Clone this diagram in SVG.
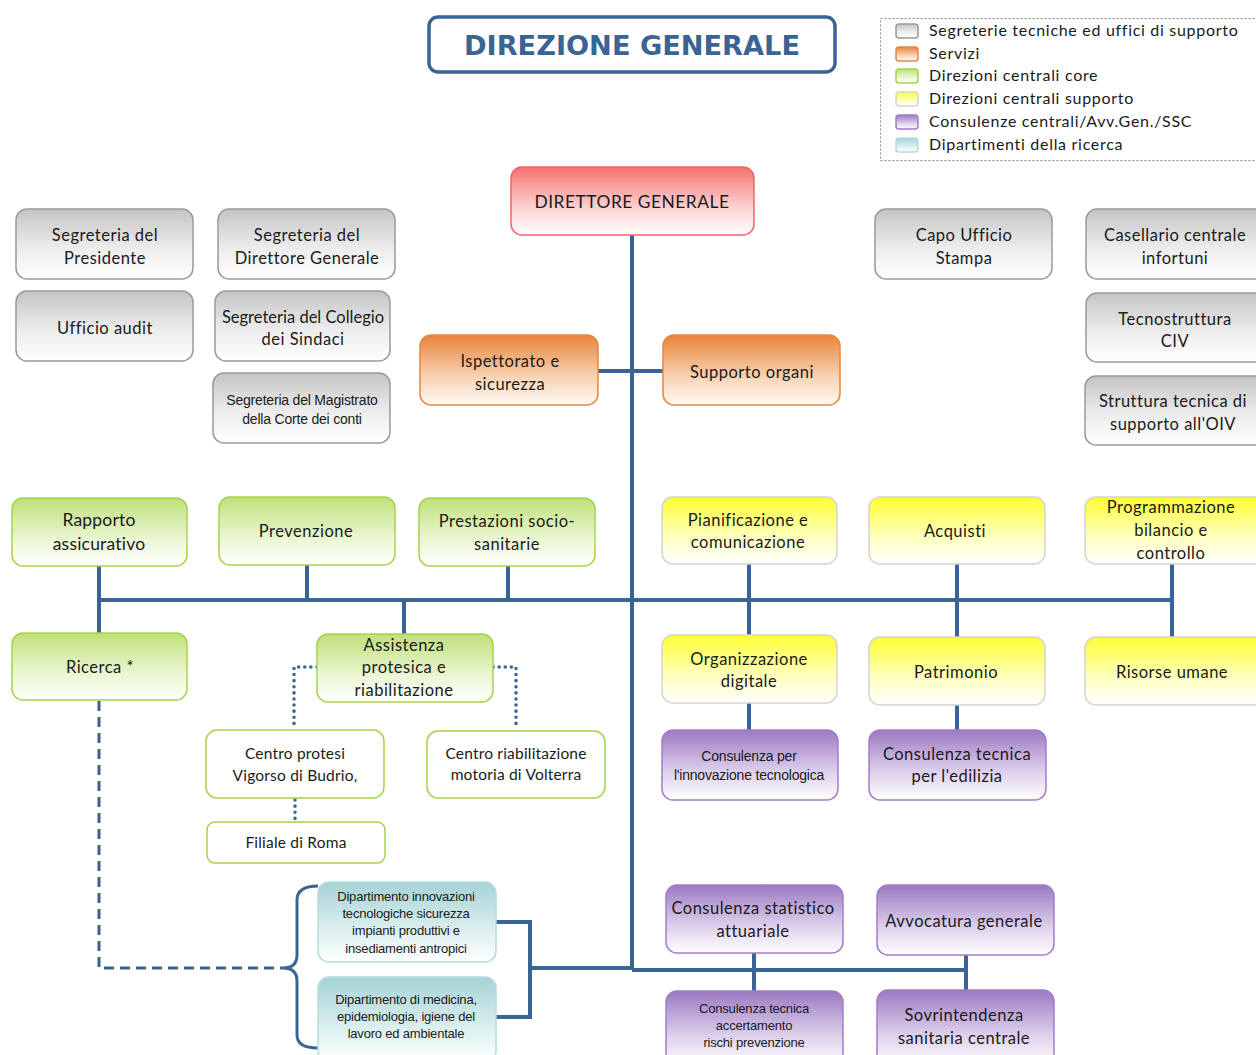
<svg xmlns="http://www.w3.org/2000/svg" width="1256" height="1055" viewBox="0 0 1256 1055">
<defs>
<linearGradient id="gGray" x1="0" y1="0" x2="0" y2="1"><stop offset="0" stop-color="#c4c4c4"/><stop offset="0.55" stop-color="#ececec"/><stop offset="1" stop-color="#ffffff"/></linearGradient>
<linearGradient id="gRed" x1="0" y1="0" x2="0" y2="1"><stop offset="0" stop-color="#f77070"/><stop offset="0.6" stop-color="#fcd2d2"/><stop offset="1" stop-color="#ffffff"/></linearGradient>
<linearGradient id="gOrange" x1="0" y1="0" x2="0" y2="1"><stop offset="0" stop-color="#e8843a"/><stop offset="0.6" stop-color="#f8d3b4"/><stop offset="1" stop-color="#fffaf6"/></linearGradient>
<linearGradient id="gGreen" x1="0" y1="0" x2="0" y2="1"><stop offset="0" stop-color="#bfe07a"/><stop offset="0.6" stop-color="#eaf6d2"/><stop offset="1" stop-color="#ffffff"/></linearGradient>
<linearGradient id="gYellow" x1="0" y1="0" x2="0" y2="1"><stop offset="0" stop-color="#ffff33"/><stop offset="0.6" stop-color="#ffffbf"/><stop offset="1" stop-color="#ffffff"/></linearGradient>
<linearGradient id="gPurple" x1="0" y1="0" x2="0" y2="1"><stop offset="0" stop-color="#9b79c2"/><stop offset="0.6" stop-color="#ddd0ec"/><stop offset="1" stop-color="#ffffff"/></linearGradient>
<linearGradient id="gTeal" x1="0" y1="0" x2="0" y2="1"><stop offset="0" stop-color="#a6d2d6"/><stop offset="0.6" stop-color="#dcefef"/><stop offset="1" stop-color="#ffffff"/></linearGradient>
</defs>
<style>
text{font-family:Lato,"Open Sans","Liberation Sans",sans-serif;font-size:16.5px;letter-spacing:0.5px;fill:#1a1a1a;text-anchor:middle}
.n{font-family:"Liberation Sans",Arial,sans-serif;font-size:14px;letter-spacing:-0.2px}
.s{font-family:"Liberation Sans",Arial,sans-serif;font-size:13px;letter-spacing:-0.2px}
.lg{text-anchor:start;font-size:16px;letter-spacing:0.7px}
.gray{fill:url(#gGray);stroke:#9a9a9a;stroke-width:1.5}
.red{fill:url(#gRed);stroke:#f06666;stroke-width:1.5}
.orange{fill:url(#gOrange);stroke:#e8863c;stroke-width:1.5}
.green{fill:url(#gGreen);stroke:#a6d24c;stroke-width:1.5}
.white{fill:#ffffff;stroke:#a6d24c;stroke-width:1.5}
.yellow{fill:url(#gYellow);stroke:#d4d4d4;stroke-width:1.5}
.purple{fill:url(#gPurple);stroke:#a27ec6;stroke-width:1.5}
.teal{fill:url(#gTeal);stroke:#b2dde2;stroke-width:1.5}
.ln{fill:none;stroke:#3a6496;stroke-width:4}
.dash{fill:none;stroke:#3a6496;stroke-width:3;stroke-dasharray:10 6}
.dot{fill:none;stroke:#3a6496;stroke-width:3.5;stroke-dasharray:0.1 6;stroke-linecap:round}
</style>
<rect width="1256" height="1055" fill="#ffffff"/>

<g id="title">
<rect x="429" y="17" width="406" height="55" rx="9" fill="#ffffff" stroke="#3a6496" stroke-width="3.5"/>
<text x="632" y="55" style="font-family:'DejaVu Sans',Verdana,sans-serif;font-weight:bold;font-size:26px;fill:#3a6494;letter-spacing:0" textLength="336" lengthAdjust="spacingAndGlyphs">DIREZIONE GENERALE</text>
</g>

<g id="legend">
<rect x="880.5" y="18.5" width="380" height="142" fill="none" stroke="#888" stroke-width="1" stroke-dasharray="2 2"/>
<rect x="896" y="24" width="22" height="14" rx="3" class="gray"/><text class="lg" x="929" y="36">Segreterie  tecniche ed uffici di supporto</text>
<rect x="896" y="47" width="22" height="14" rx="3" class="orange"/><text class="lg" x="929" y="59">Servizi</text>
<rect x="896" y="69" width="22" height="14" rx="3" class="green"/><text class="lg" x="929" y="81">Direzioni centrali core</text>
<rect x="896" y="92" width="22" height="14" rx="3" class="yellow"/><text class="lg" x="929" y="104">Direzioni centrali supporto</text>
<rect x="896" y="115" width="22" height="14" rx="3" class="purple"/><text class="lg" x="929" y="127">Consulenze centrali/Avv.Gen./SSC</text>
<rect x="896" y="138" width="22" height="14" rx="3" class="teal"/><text class="lg" x="929" y="150">Dipartimenti della ricerca</text>
</g>

<g id="connectors">
<path class="ln" d="M632 235 V970"/>
<path class="ln" d="M598 371 H663"/>
<path class="ln" d="M99 600 H1172"/>
<path class="ln" d="M99 566 V633"/>
<path class="ln" d="M307 565 V600"/>
<path class="ln" d="M508 566 V600"/>
<path class="ln" d="M404 600 V634"/>
<path class="ln" d="M749 564 V635"/>
<path class="ln" d="M957 564 V637"/>
<path class="ln" d="M1172 564 V637"/>
<path class="ln" d="M749 703 V730"/>
<path class="ln" d="M957 705 V730"/>
<path class="ln" d="M632 970 H966"/>
<path class="ln" d="M754 953 V991"/>
<path class="ln" d="M966 955 V990"/>
<path class="ln" d="M496 922 H530 V1017 H496"/>
<path class="ln" d="M530 968 H632"/>
<path class="dash" d="M99 701 V968 H283"/>
<path fill="none" stroke="#3a6496" stroke-width="3" d="M318 886 Q297 886 297 900 V955 Q297 968 283 968 Q297 968 297 981 V1035 Q297 1048 318 1048"/>
<path class="dot" d="M317 667 H294 V728"/>
<path class="dot" d="M493 667 H516 V728"/>
<path class="dot" d="M295 800 V821"/>
</g>

<g id="n-seg-presidente"><rect x="16" y="209" width="177" height="70" rx="11" class="gray"/><text x="105" y="241">Segreteria del</text><text x="105" y="264">Presidente</text></g>
<g id="n-seg-dg"><rect x="218" y="209" width="177" height="70" rx="11" class="gray"/><text x="307" y="241">Segreteria del</text><text x="307" y="264">Direttore Generale</text></g>
<g id="n-audit"><rect x="16" y="291" width="177" height="70" rx="11" class="gray"/><text x="105" y="334">Ufficio audit</text></g>
<g id="n-collegio"><rect x="215" y="291" width="175" height="70" rx="11" class="gray"/><text x="303" y="323" style="letter-spacing:0">Segreteria del Collegio</text><text x="303" y="345">dei Sindaci</text></g>
<g id="n-magistrato"><rect x="213" y="373" width="177" height="70" rx="11" class="gray"/><text class="n" x="302" y="405">Segreteria  del Magistrato</text><text class="n" x="302" y="424">della  Corte dei conti</text></g>
<g id="n-dg"><rect x="511" y="167" width="243" height="68" rx="11" class="red"/><text x="632" y="208" style="font-size:17px" textLength="195" lengthAdjust="spacingAndGlyphs">DIRETTORE  GENERALE</text></g>
<g id="n-ispettorato"><rect x="420" y="335" width="178" height="70" rx="11" class="orange"/><text x="510" y="367">Ispettorato e</text><text x="510" y="390">sicurezza</text></g>
<g id="n-supporto"><rect x="663" y="335" width="177" height="70" rx="11" class="orange"/><text x="752" y="378">Supporto organi</text></g>
<g id="n-stampa"><rect x="875" y="209" width="177" height="70" rx="11" class="gray"/><text x="964" y="241">Capo Ufficio</text><text x="964" y="264">Stampa</text></g>
<g id="n-casellario"><rect x="1086" y="209" width="180" height="70" rx="11" class="gray"/><text x="1175" y="241">Casellario centrale</text><text x="1175" y="264">infortuni</text></g>
<g id="n-civ"><rect x="1086" y="293" width="180" height="69" rx="11" class="gray"/><text x="1175" y="325">Tecnostruttura</text><text x="1175" y="347">CIV</text></g>
<g id="n-oiv"><rect x="1085" y="376" width="181" height="69" rx="11" class="gray"/><text x="1173" y="407">Struttura tecnica di</text><text x="1173" y="430">supporto all'OIV</text></g>

<g id="n-rapporto"><rect x="12" y="498" width="175" height="68" rx="11" class="green"/><text x="99" y="526" style="font-size:17.5px;letter-spacing:0.2px">Rapporto</text><text x="99" y="550" style="font-size:17.5px;letter-spacing:0.2px">assicurativo</text></g>
<g id="n-prevenzione"><rect x="219" y="497" width="176" height="68" rx="11" class="green"/><text x="306" y="537">Prevenzione</text></g>
<g id="n-prestazioni"><rect x="419" y="498" width="176" height="68" rx="11" class="green"/><text x="507" y="527">Prestazioni socio-</text><text x="507" y="550">sanitarie</text></g>
<g id="n-pianificazione"><rect x="662" y="497" width="175" height="67" rx="11" class="yellow"/><text x="748" y="526">Pianificazione e</text><text x="748" y="548">comunicazione</text></g>
<g id="n-acquisti"><rect x="869" y="497" width="176" height="67" rx="11" class="yellow"/><text x="955" y="537">Acquisti</text></g>
<g id="n-programmazione"><rect x="1085" y="497" width="181" height="67" rx="11" class="yellow"/><text x="1171" y="513">Programmazione</text><text x="1171" y="536">bilancio e</text><text x="1171" y="559">controllo</text></g>
<g id="n-ricerca"><rect x="12" y="633" width="175" height="67" rx="11" class="green"/><text x="100" y="673">Ricerca *</text></g>
<g id="n-assistenza"><rect x="317" y="634" width="176" height="68" rx="11" class="green"/><text x="404" y="651">Assistenza</text><text x="404" y="673">protesica e</text><text x="404" y="696">riabilitazione</text></g>
<g id="n-organizzazione"><rect x="662" y="635" width="175" height="68" rx="11" class="yellow"/><text x="749" y="665">Organizzazione</text><text x="749" y="687">digitale</text></g>
<g id="n-patrimonio"><rect x="869" y="637" width="176" height="68" rx="11" class="yellow"/><text x="956" y="678">Patrimonio</text></g>
<g id="n-risorse"><rect x="1085" y="637" width="181" height="68" rx="11" class="yellow"/><text x="1172" y="678">Risorse umane</text></g>
<g id="n-innovazione"><rect x="662" y="730" width="176" height="70" rx="11" class="purple"/><text class="n" x="749" y="761">Consulenza  per</text><text class="n" x="749" y="780">l'innovazione  tecnologica</text></g>
<g id="n-edilizia"><rect x="869" y="730" width="177" height="70" rx="11" class="purple"/><text x="957" y="760">Consulenza tecnica</text><text x="957" y="782">per l'edilizia</text></g>
<g id="n-vigorso"><rect x="206" y="730" width="178" height="68" rx="11" class="white"/><text x="295" y="759" style="font-size:15.5px;letter-spacing:0.2px">Centro protesi</text><text x="295" y="781" style="font-size:15.5px;letter-spacing:0.2px">Vigorso di Budrio,</text></g>
<g id="n-volterra"><rect x="427" y="731" width="178" height="67" rx="11" class="white"/><text x="516" y="759" style="font-size:15.5px;letter-spacing:0.2px">Centro riabilitazione</text><text x="516" y="780" style="font-size:15.5px;letter-spacing:0.2px">motoria di Volterra</text></g>
<g id="n-roma"><rect x="207" y="822" width="178" height="41" rx="8" class="white"/><text x="296" y="848" style="font-size:15.5px;letter-spacing:0.2px">Filiale di Roma</text></g>

<g id="n-dip-innovazioni"><rect x="318" y="882" width="178" height="80" rx="11" class="teal"/><text class="s" x="406" y="901">Dipartimento innovazioni</text><text class="s" x="406" y="918">tecnologiche sicurezza</text><text class="s" x="406" y="935">impianti produttivi e</text><text class="s" x="406" y="953">insediamenti antropici</text></g>
<g id="n-dip-medicina"><rect x="318" y="977" width="178" height="85" rx="11" class="teal"/><text class="s" x="406" y="1004">Dipartimento di medicina,</text><text class="s" x="406" y="1021">epidemiologia, igiene del</text><text class="s" x="406" y="1038">lavoro ed ambientale</text></g>
<g id="n-statistico"><rect x="666" y="885" width="177" height="68" rx="11" class="purple"/><text x="753" y="914">Consulenza statistico</text><text x="753" y="937">attuariale</text></g>
<g id="n-avvocatura"><rect x="877" y="885" width="177" height="70" rx="11" class="purple"/><text x="964" y="927">Avvocatura generale</text></g>
<g id="n-accertamento"><rect x="666" y="991" width="177" height="75" rx="11" class="purple"/><text class="s" x="754" y="1013">Consulenza tecnica</text><text class="s" x="754" y="1030">accertamento</text><text class="s" x="754" y="1047">rischi prevenzione</text></g>
<g id="n-sovrintendenza"><rect x="877" y="990" width="177" height="75" rx="11" class="purple"/><text x="964" y="1021">Sovrintendenza</text><text x="964" y="1044">sanitaria centrale</text></g>
</svg>
